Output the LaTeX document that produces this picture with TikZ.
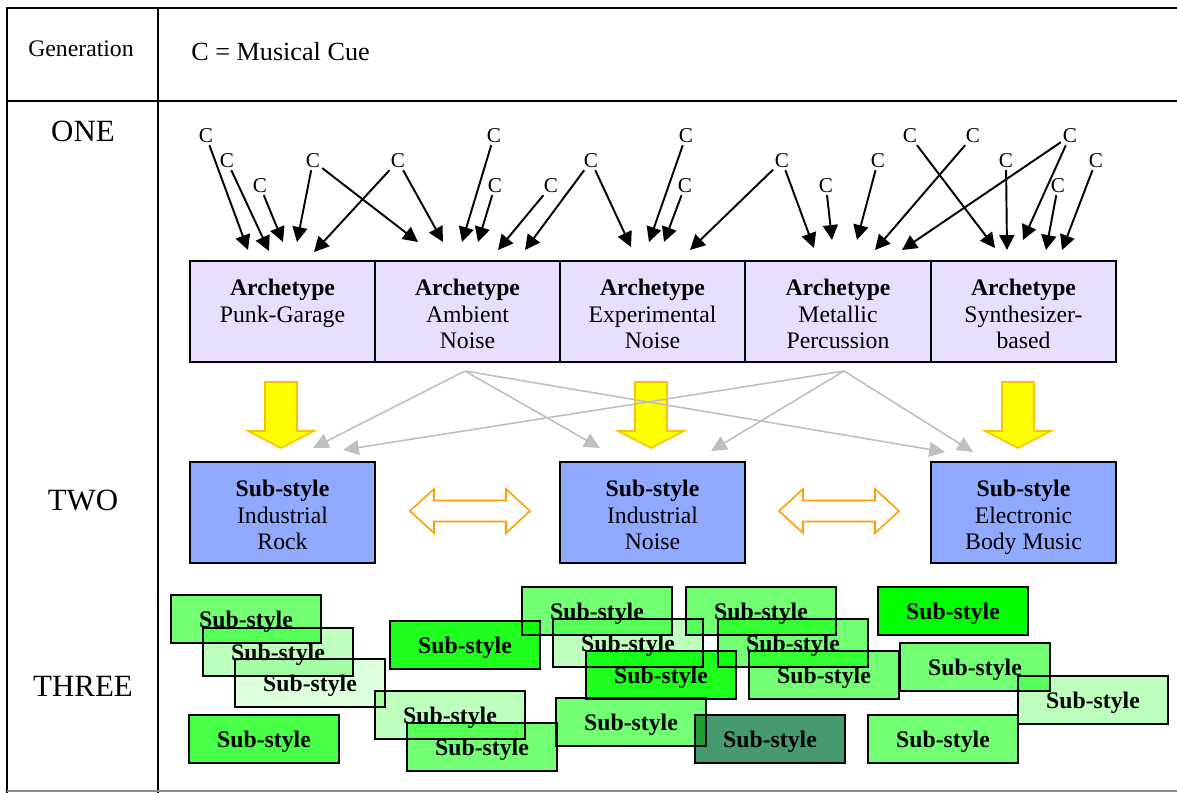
\documentclass[tikz,border=0pt]{standalone}
\usepackage{fontspec}
\setmainfont{Liberation Serif}
\usetikzlibrary{arrows.meta}

\definecolor{lavender}{RGB}{234,222,255}
\definecolor{subblue}{RGB}{143,170,255}
\definecolor{midgreen}{RGB}{115,255,115}
\definecolor{palegreen}{RGB}{190,255,190}
\definecolor{palergreen}{RGB}{220,255,220}
\definecolor{deepgreen}{RGB}{72,255,72}
\definecolor{brightgreen}{RGB}{30,255,30}
\definecolor{puregreen}{RGB}{0,255,0}
\definecolor{darkgreen}{RGB}{70,155,110}
\definecolor{arrowyellow}{RGB}{255,255,0}
\definecolor{arrowrim}{RGB}{255,192,0}
\definecolor{linkorange}{RGB}{255,160,0}

% three lines of a box, bold head line
\newcommand{\boxlines}[3]{\rule{0pt}{15pt}\textbf{#1}\\#2\\#3\vphantom{y}}

\begin{document}
\begin{tikzpicture}[x=0.02cm,y=-0.02cm,
    archbox/.style={draw,line width=1pt,fill=lavender,minimum width=3.7cm,minimum height=2.02cm,
      inner sep=0pt,outer sep=0pt,align=center,font=\fontsize{13.5}{15}\selectfont},
    subbox/.style={archbox,fill=subblue},
    leaf/.style={draw,line width=1pt,minimum width=3cm,minimum height=0.96cm,inner sep=0pt,
      text height=1em,text depth=0pt,font=\fontsize{13.5}{15}\selectfont\bfseries},
    cue/.style={inner sep=1pt,font=\fontsize{12}{14}\selectfont},
    cuearrow/.style={line width=1.1pt,-{Triangle[length=8.5pt,width=8.5pt]}},
    greyarrow/.style={black!25,line width=0.9pt,-{Triangle[length=9pt,width=8.5pt]}},
    gen/.style={font=\fontsize{17.6}{20}\selectfont}]
    \useasboundingbox (0,0) rectangle (1177,792);

    % table
    \draw [line width=1.1pt] (1190,8)--(7,8)--(7,800);
    \draw [line width=1.1pt] (158,8)--(158,800);
    \draw [line width=1.1pt] (7,101)--(1190,101);
    \draw [line width=1.1pt,black!45] (7,791)--(1190,791);

    \node (genhead) at (81,49) {\fontsize{13.5}{16}\selectfont Generation};
    \node (legend) at (191,52) [anchor=west,inner sep=0pt] {\fontsize{14.9}{17}\selectfont C = Musical Cue};
    \node [gen] (one) at (83,131) {ONE};
    \node [gen] (two) at (83,500) {TWO};
    \node [gen] (three) at (83,686) {THREE};

    % generation one
    \node [archbox] (punk) at (282.5,311.5) {\boxlines{Archetype}{Punk-Garage}{}};
    \node [archbox] (ambient) at (467.5,311.5) {\boxlines{Archetype}{Ambient}{Noise}};
    \node [archbox] (experimental) at (652.5,311.5) {\boxlines{Archetype}{Experimental}{Noise}};
    \node [archbox] (metallic) at (838,311.5) {\boxlines{Archetype}{Metallic}{Percussion}};
    \node [archbox] (synth) at (1023.5,311.5) {\boxlines{Archetype}{Synthesizer-}{based}};

    \foreach \n/\x/\y in {c1/206/136,c2/227/161,c3/260/186,c4/313/161,c5/398/161,
        c6/494/136,c7/495/186,c8/551/186,c9/591/161,c10/686/136,c11/685/186,
        c12/782/161,c13/826/186,c14/878/161,c15/910/136,c16/973/136,
        c17/1070/136,c18/1006/161,c19/1058/186,c20/1096/161}
        \node [cue] (\n) at (\x,\y) {C};

    \foreach \c/\x/\y [count=\i] in {c1/248/250,c2/269/251,c3/283/242,c4/297/242,c5/314/252,
        c4/418/242,c5/443/242,c6/462/242,c7/478/242,c8/498/250,c9/525/250,
        c9/631/247,c10/649/242,c11/664/242,c12/690/250,
        c12/814/248,c13/832/240,c14/857/240,c16/875/250,c17/902/250,
        c15/995/248,c18/1007/250,c17/1023/240,c19/1046/250,c20/1062/250} {
        \coordinate (tip\i) at (\x,\y);
        \draw [cuearrow] (\c)--(tip\i);
    }

    % generation two
    \node [subbox] (rock) at (282.5,512.5) {\boxlines{Sub-style}{Industrial}{Rock}};
    \node [subbox] (noise) at (652.5,512.5) {\boxlines{Sub-style}{Industrial}{Noise}};
    \node [subbox] (ebm) at (1023.5,512.5) {\boxlines{Sub-style}{Electronic}{Body Music}};

    \foreach \x in {281,651,1018}
        \draw [fill=arrowyellow,draw=arrowrim,line width=0.9pt]
            ({\x-16},382)--({\x+16},382)--({\x+16},431)--({\x+33},431)--(\x,448)
            --({\x-33},431)--({\x-16},431)--cycle;

    \foreach \x in {470,839}
        \draw [draw=linkorange,fill=white,line width=0.9pt]
            ({\x-60},511)--({\x-36},489)--({\x-36},500.5)--({\x+36},500.5)--({\x+36},489)
            --({\x+60},511)--({\x+36},533)--({\x+36},521.5)--({\x-36},521.5)--({\x-36},533)--cycle;

    \coordinate (ambfoot) at (465,371);
    \coordinate (metfoot) at (844,371);
    \coordinate (rockA) at (313,448);
    \coordinate (rockB) at (343,450);
    \coordinate (noiseA) at (600,448);
    \coordinate (noiseB) at (711,451);
    \coordinate (ebmA) at (945,452);
    \coordinate (ebmB) at (973,452);
    \draw [greyarrow] (ambfoot)--(rockA);
    \draw [greyarrow] (ambfoot)--(noiseA);
    \draw [greyarrow] (ambfoot)--(ebmA);
    \draw [greyarrow] (metfoot)--(rockB);
    \draw [greyarrow] (metfoot)--(noiseB);
    \draw [greyarrow] (metfoot)--(ebmB);

    % generation three
    \begin{scope}[blend mode=multiply]
    \foreach \x/\y/\c [count=\i] in {246/619/midgreen,278/652/palegreen,310/683/palergreen,
        264/739/deepgreen,465/645/brightgreen,450/715/palegreen,482/747/midgreen,
        597/611/midgreen,628/643/palegreen,661/675/brightgreen,631/722/midgreen,
        770/739/darkgreen,761/611/midgreen,793/643/midgreen,824/675/midgreen,
        953/611/puregreen,975/667/midgreen,1093/700/palegreen,943/739/midgreen}
        \node [leaf,fill=\c] (leaf\i) at (\x,\y) {Sub-style};
    \end{scope}
\end{tikzpicture}
\end{document}
